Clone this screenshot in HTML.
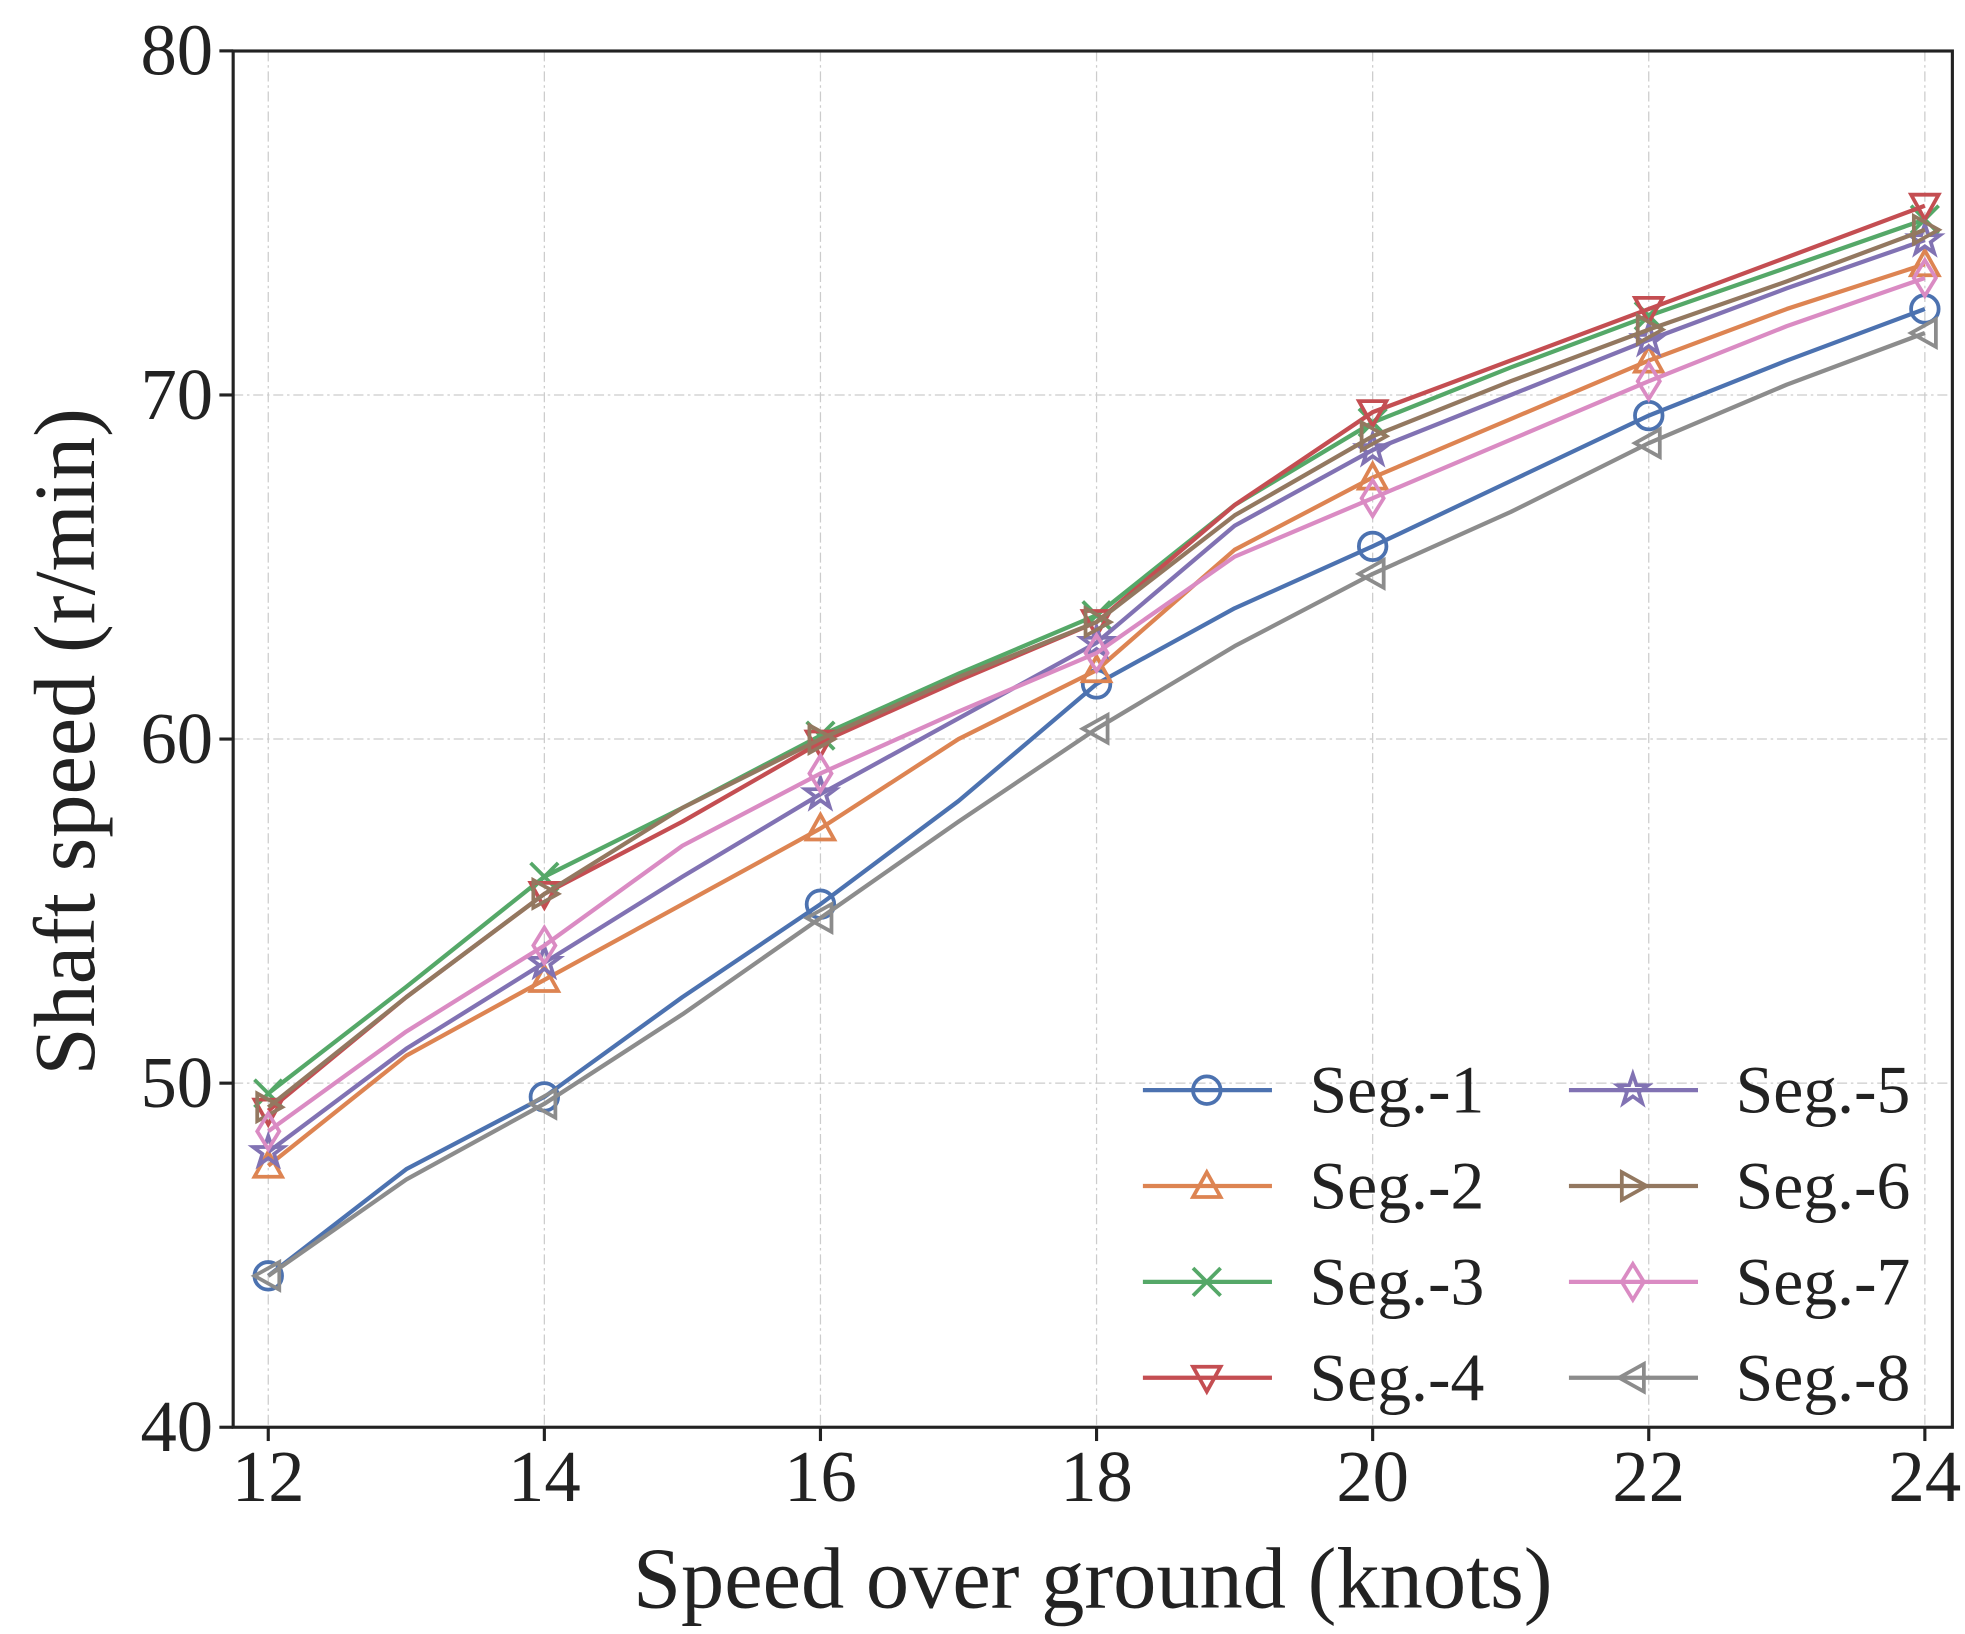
<!DOCTYPE html>
<html><head><meta charset="utf-8"><style>html,body{margin:0;padding:0;background:#fff}svg{display:block}</style></head>
<body>
<svg id="s" width="1965" height="1634" viewBox="0 0 1568 1304" xmlns="http://www.w3.org/2000/svg" font-family="'Liberation Serif', serif" fill="#222">
<rect width="1568" height="1304" fill="#fff"/>
<g id="grid" stroke="#ccc" stroke-width="1" stroke-dasharray="8,3,2,3"></g>
<g id="series"></g>
<rect x="186" y="40.7" width="1372" height="1098.3" fill="none" stroke="#222" stroke-width="2.5"/>
<g id="ticks" stroke="#222" stroke-width="2.5"></g>
<g id="labels" font-size="58"></g>
<text x="872" y="1283" font-size="69" text-anchor="middle">Speed over ground (knots)</text>
<text transform="translate(75,592) rotate(-90)" font-size="69" text-anchor="middle">Shaft speed (r/min)</text>
<g id="legend" font-size="54"></g>
</svg>
<script>
const NS="http://www.w3.org/2000/svg";
const X=k=>214+(k-12)*110.17, Y=v=>1139-(v-40)*27.46;
function el(t,a,p){const e=document.createElementNS(NS,t);for(const k in a)e.setAttribute(k,a[k]);document.getElementById(p).appendChild(e);return e;}
for(let k=12;k<=24;k+=2){el('line',{x1:X(k),x2:X(k),y1:41,y2:1139},'grid');el('line',{x1:X(k),x2:X(k),y1:1139,y2:1150},'ticks');const t=el('text',{x:X(k),y:1198,'text-anchor':'middle'},'labels');t.textContent=k;}
for(let v=40;v<=80;v+=10){el('line',{x1:186,x2:1558,y1:Y(v),y2:Y(v)},'grid');el('line',{x1:175,x2:186,y1:Y(v),y2:Y(v)},'ticks');const t=el('text',{x:170,y:Y(v)+19,'text-anchor':'end'},'labels');t.textContent=v;}
const S=[
["#4C72B0","o",[44.4,47.5,49.6,52.5,55.2,58.2,61.6,63.8,65.6,67.5,69.4,71,72.5]],
["#DD8452","^",[47.6,50.8,53,55.2,57.4,60,62,65.5,67.6,69.3,71,72.5,73.8]],
["#55A868","x",[49.7,52.8,56,58,60.1,61.9,63.6,66.8,69.2,70.8,72.3,73.7,75.1]],
["#C44E52","v",[49.2,52.5,55.5,57.6,59.9,61.7,63.4,66.8,69.5,71,72.5,74,75.5]],
["#8172B3","*",[48,51,53.5,56,58.4,60.6,62.8,66.2,68.4,70,71.6,73.1,74.5]],
["#937860",">",[49.3,52.5,55.5,58,60,61.8,63.4,66.5,68.8,70.4,71.9,73.3,74.8]],
["#DA8BC3","d",[48.6,51.5,54,56.9,59,60.8,62.5,65.3,67,68.7,70.4,72,73.4]],
["#8C8C8C","<",[44.4,47.2,49.4,52,54.8,57.6,60.3,62.7,64.8,66.6,68.6,70.3,71.8]]];
function marker(m,x,y,c,p){const r=11,a={fill:'none',stroke:c,'stroke-width':3};let pts;
 if(m=='o'){el('circle',Object.assign({cx:x,cy:y,r:r},a),p);return;}
 if(m=='x'){el('path',Object.assign({d:`M${x-r} ${y-r}L${x+r} ${y+r}M${x-r} ${y+r}L${x+r} ${y-r}`},a),p);return;}
 if(m=='^')pts=[[0,-r],[r,r*0.8],[-r,r*0.8]];
 if(m=='v')pts=[[0,r],[r,-r*0.8],[-r,-r*0.8]];
 if(m=='>')pts=[[r,0],[-r*0.8,r],[-r*0.8,-r]];
 if(m=='<')pts=[[-r,0],[r*0.8,r],[r*0.8,-r]];
 if(m=='d')pts=[[0,-r*1.3],[r*0.8,0],[0,r*1.3],[-r*0.8,0]];
 if(m=='*'){pts=[];for(let i=0;i<10;i++){const rr=i%2?r*0.45:r*1.15,ang=-Math.PI/2+i*Math.PI/5;pts.push([rr*Math.cos(ang),rr*Math.sin(ang)]);}}
 el('polygon',Object.assign({points:pts.map(p=>(x+p[0])+','+(y+p[1])).join(' ')},a),p);}
S.forEach(([c,m,v])=>{const d=v.map((y,i)=>(i?'L':'M')+X(12+i)+' '+Y(y)).join('');
 el('path',{d:d,fill:'none',stroke:c,'stroke-width':3.4,'stroke-linejoin':'round'},'series');
 v.forEach((y,i)=>{if(i%2==0)marker(m,X(12+i),Y(y),c,'series');});});
S.forEach(([c,m],i)=>{const col=Math.floor(i/4),row=i%4,y=870+row*76.5,x0=col?1252:912;
 el('line',{x1:x0,x2:x0+103,y1:y,y2:y,stroke:c,'stroke-width':3.4},'legend');marker(m,x0+51,y,c,'legend');
 const t=el('text',{x:col?1385:1045,y:y+18},'legend');t.textContent='Seg.-'+(i+1);});
</script>
</body></html>
